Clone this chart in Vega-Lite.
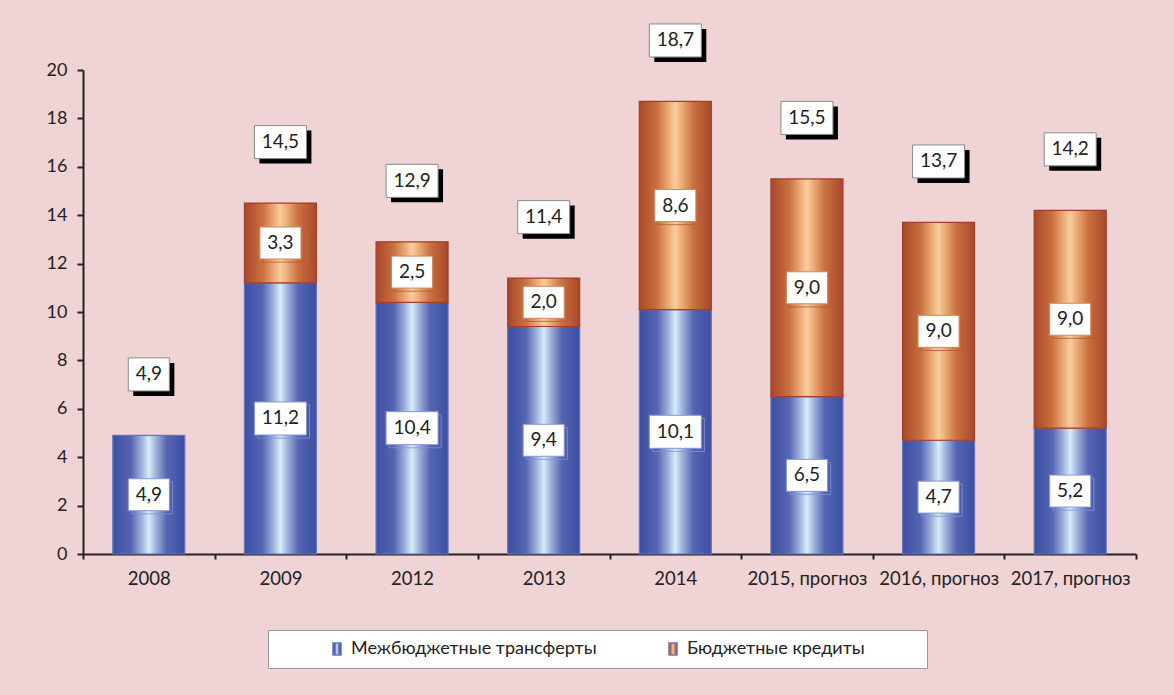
{
  "$schema": "https://vega.github.io/schema/vega-lite/v6.json",
  "width": 1053,
  "height": 484,
  "autosize": {"type": "none"},
  "padding": {"left": 83, "top": 70, "right": 38, "bottom": 141},
  "background": "#f0d3d4",
  "data": {
    "values": [
      {"year": "2008", "series": "Межбюджетные трансферты", "value": 4.9},
      {"year": "2009", "series": "Межбюджетные трансферты", "value": 11.2},
      {"year": "2009", "series": "Бюджетные кредиты", "value": 3.3},
      {"year": "2012", "series": "Межбюджетные трансферты", "value": 10.4},
      {"year": "2012", "series": "Бюджетные кредиты", "value": 2.5},
      {"year": "2013", "series": "Межбюджетные трансферты", "value": 9.4},
      {"year": "2013", "series": "Бюджетные кредиты", "value": 2.0},
      {"year": "2014", "series": "Межбюджетные трансферты", "value": 10.1},
      {"year": "2014", "series": "Бюджетные кредиты", "value": 8.6},
      {"year": "2015, прогноз", "series": "Межбюджетные трансферты", "value": 6.5},
      {"year": "2015, прогноз", "series": "Бюджетные кредиты", "value": 9.0},
      {"year": "2016, прогноз", "series": "Межбюджетные трансферты", "value": 4.7},
      {"year": "2016, прогноз", "series": "Бюджетные кредиты", "value": 9.0},
      {"year": "2017, прогноз", "series": "Межбюджетные трансферты", "value": 5.2},
      {"year": "2017, прогноз", "series": "Бюджетные кредиты", "value": 9.0}
    ]
  },
  "transform": [
    {"stack": "value", "groupby": ["year"], "sort": [{"field": "series", "order": "descending"}], "as": ["y0", "y1"]}
  ],
  "encoding": {
    "x": {
      "field": "year", "type": "nominal", "sort": null,
      "scale": {"paddingInner": 0, "paddingOuter": 0},
      "axis": {"title": null, "labelAngle": 0, "tickBand": "extent"}
    }
  },
  "layer": [
    {
      "mark": {"type": "bar", "width": {"band": 0.547}, "strokeWidth": 1.2},
      "encoding": {
        "y": {
          "field": "y1", "type": "quantitative", "scale": {"domain": [0, 20], "nice": false},
          "axis": {"title": null, "values": [0, 2, 4, 6, 8, 10, 12, 14, 16, 18, 20]}
        },
        "y2": {"field": "y0"},
        "color": {
          "field": "series", "type": "nominal",
          "scale": {
            "domain": ["Межбюджетные трансферты", "Бюджетные кредиты"],
            "range": [
              {"expr": "{gradient:'linear', x1:0, y1:0, x2:1, y2:0, stops:[{offset:0,color:'#3c4fa2'},{offset:0.25,color:'#5565b2'},{offset:0.4,color:'#9fb0dc'},{offset:0.5,color:'#d4eefa'},{offset:0.6,color:'#9fb0dc'},{offset:0.75,color:'#5565b2'},{offset:1,color:'#3c4fa2'}]}"},
              {"expr": "{gradient:'linear', x1:0, y1:0, x2:1, y2:0, stops:[{offset:0,color:'#a9472a'},{offset:0.25,color:'#c9713f'},{offset:0.4,color:'#e9a874'},{offset:0.5,color:'#f9cd9c'},{offset:0.6,color:'#e9a874'},{offset:0.75,color:'#c9713f'},{offset:1,color:'#a9472a'}]}"}
            ]
          },
          "legend": {
            "title": "\u00a0", "titleOrient": "right", "titlePadding": 52, "titleFontSize": 18,
            "orient": "none", "legendX": 185, "legendY": 560,
            "direction": "horizontal", "columns": 2,
            "fillColor": "white", "strokeColor": "#999", "padding": 10,
            "symbolType": "M-0.67,-1L0.67,-1L0.67,1L-0.67,1Z", "symbolSize": 144,
            "symbolOffset": 50, "columnPadding": 17, "labelOffset": 5, "labelLimit": 500,
            "labelFont": "Lato", "labelFontSize": 18, "labelColor": "#222"
          }
        },
        "stroke": {
          "condition": {"test": "datum.series === 'Бюджетные кредиты'", "value": "#a33e2a"},
          "value": "#6675bf"
        }
      }
    },
    {
      "transform": [{"calculate": "(datum.y0 + datum.y1) / 2", "as": "mid"}],
      "mark": {"type": "point", "filled": false, "size": 2704, "strokeWidth": 1, "opacity": 0.8},
      "encoding": {
        "y": {"field": "mid", "type": "quantitative", "scale": {"domain": [0, 20]}, "axis": {"title": null}},
        "shape": {
          "condition": {"test": "length(format(datum.value, '.1f')) > 3", "value": "M-0.88,-0.515L1.12,-0.515L1.12,0.755L-0.88,0.755Z"},
          "value": "M-0.67,-0.495L0.91,-0.495L0.91,0.735L-0.67,0.735Z"
        },
        "stroke": {
          "condition": {"test": "datum.series === 'Бюджетные кредиты'", "value": "#b85a3a"},
          "value": "#8593d2"
        }
      }
    },
    {
      "transform": [{"calculate": "(datum.y0 + datum.y1) / 2", "as": "mid"}],
      "mark": {"type": "point", "filled": true, "fill": "white", "size": 2704, "strokeWidth": 1, "opacity": 1},
      "encoding": {
        "y": {"field": "mid", "type": "quantitative", "scale": {"domain": [0, 20]}, "axis": {"title": null}},
        "shape": {
          "condition": {"test": "length(format(datum.value, '.1f')) > 3", "value": "M-1,-0.635L1,-0.635L1,0.635L-1,0.635Z"},
          "value": "M-0.79,-0.615L0.79,-0.615L0.79,0.615L-0.79,0.615Z"
        },
        "stroke": {
          "condition": {"test": "datum.series === 'Бюджетные кредиты'", "value": "#d08763"},
          "value": "#8796d4"
        }
      }
    },
    {
      "transform": [{"calculate": "(datum.y0 + datum.y1) / 2", "as": "mid"}],
      "mark": {"type": "text", "font": "Lato", "fontSize": 19, "color": "#222", "baseline": "middle", "align": "center"},
      "encoding": {
        "y": {"field": "mid", "type": "quantitative", "scale": {"domain": [0, 20]}, "axis": {"title": null}},
        "text": {"field": "value", "type": "quantitative", "format": ".1f"}
      }
    },
    {
      "transform": [{"aggregate": [{"op": "sum", "field": "value", "as": "total"}], "groupby": ["year"]}],
      "mark": {"type": "point", "filled": true, "fill": "black", "size": 2704, "strokeWidth": 0, "opacity": 1},
      "encoding": {
        "y": {"field": "total", "type": "quantitative", "scale": {"domain": [0, 20]}, "axis": {"title": null}},
        "shape": {
          "condition": {"test": "length(format(datum.total, '.1f')) > 3", "value": "M-0.808,-2.789L1.192,-2.789L1.192,-1.519L-0.808,-1.519Z"},
          "value": "M-0.598,-2.789L0.982,-2.789L0.982,-1.519L-0.598,-1.519Z"
        }
      }
    },
    {
      "transform": [{"aggregate": [{"op": "sum", "field": "value", "as": "total"}], "groupby": ["year"]}],
      "mark": {"type": "point", "filled": true, "fill": "white", "stroke": "#8a8a8a", "size": 2704, "strokeWidth": 1, "opacity": 1},
      "encoding": {
        "y": {"field": "total", "type": "quantitative", "scale": {"domain": [0, 20]}, "axis": {"title": null}},
        "shape": {
          "condition": {"test": "length(format(datum.total, '.1f')) > 3", "value": "M-1,-2.981L1,-2.981L1,-1.711L-1,-1.711Z"},
          "value": "M-0.79,-2.981L0.79,-2.981L0.79,-1.711L-0.79,-1.711Z"
        }
      }
    },
    {
      "transform": [{"aggregate": [{"op": "sum", "field": "value", "as": "total"}], "groupby": ["year"]}],
      "mark": {"type": "text", "font": "Lato", "fontSize": 19, "color": "#222", "baseline": "middle", "align": "center", "dy": -61},
      "encoding": {
        "y": {"field": "total", "type": "quantitative", "scale": {"domain": [0, 20]}, "axis": {"title": null}},
        "text": {"field": "total", "type": "quantitative", "format": ".1f"}
      }
    }
  ],
  "config": {
    "view": {"stroke": null},
    "font": "Lato",
    "axisX": {
      "domainColor": "#222", "domainWidth": 2, "tickColor": "#222", "tickWidth": 2, "tickSize": 5,
      "labelFont": "Lato", "labelFontSize": 18.5, "labelColor": "#222", "labelPadding": 10, "grid": false
    },
    "axisY": {
      "domainColor": "#222", "domainWidth": 2, "tickColor": "#222", "tickWidth": 2, "tickSize": 6,
      "labelFont": "Lato", "labelFontSize": 18, "labelColor": "#222", "labelPadding": 10, "grid": false
    },
    "locale": {"number": {"decimal": ",", "thousands": " ", "grouping": [3], "currency": ["", ""]}}
  }
}
